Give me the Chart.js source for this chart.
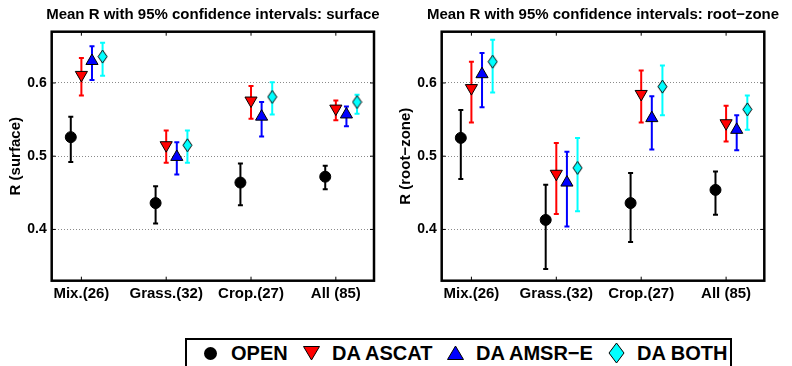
<!DOCTYPE html>
<html>
<head>
<meta charset="utf-8">
<script src="https://cdn.jsdelivr.net/npm/chart.js@4.4.0/dist/chart.umd.min.js"></script>
<style>
  html, body { margin: 0; padding: 0; background: #fff; overflow: hidden; width: 792px; height: 366px; }
  canvas { position: absolute; top: 0; }
  #left { left: 0; }
  #right { left: 390px; }
  #legend {
    position: absolute; left: 185px; top: 338px; width: 547px; height: 44px;
    border: 2px solid #000; box-sizing: border-box; background: #fff;
    font: bold 20px "Liberation Sans", Arial, sans-serif; color: #000;
  }
  #legend span { position: absolute; line-height: 20px; white-space: nowrap; }
  #legend svg { position: absolute; }
</style>
</head>
<body>
<canvas id="left" width="390" height="320"></canvas>
<canvas id="right" width="402" height="320"></canvas>
<div id="legend"></div>
<script>
const categories = ['Mix.(26)', 'Grass.(32)', 'Crop.(27)', 'All (85)'];
const seriesNames = ['OPEN', 'DA ASCAT', 'DA AMSR\u2212E', 'DA BOTH'];
const yTicks = [0.4, 0.5, 0.6];

// surface: mean R and 95% CI [low, high]
const surfOpen = [0.526, 0.436, 0.464, 0.472];
const surfOpenCI = [[0.492, 0.554], [0.408, 0.459], [0.433, 0.490], [0.455, 0.487]];
const surfAscat = [0.611, 0.515, 0.576, 0.565];
const surfAscatCI = [[0.583, 0.634], [0.491, 0.535], [0.551, 0.596], [0.549, 0.576]];
const surfAmsr = [0.630, 0.499, 0.554, 0.557];
const surfAmsrCI = [[0.604, 0.650], [0.475, 0.519], [0.527, 0.574], [0.541, 0.568]];
const surfBoth = [0.636, 0.515, 0.581, 0.574];
const surfBothCI = [[0.610, 0.655], [0.491, 0.535], [0.557, 0.601], [0.558, 0.584]];

// root-zone
const rootOpen = [0.525, 0.413, 0.436, 0.454];
const rootOpenCI = [[0.469, 0.563], [0.346, 0.461], [0.383, 0.477], [0.420, 0.479]];
const rootAscat = [0.593, 0.476, 0.585, 0.545];
const rootAscatCI = [[0.546, 0.629], [0.421, 0.518], [0.546, 0.617], [0.520, 0.569]];
const rootAmsr = [0.612, 0.464, 0.552, 0.536];
const rootAmsrCI = [[0.567, 0.641], [0.404, 0.506], [0.509, 0.582], [0.508, 0.556]];
const rootBoth = [0.629, 0.484, 0.595, 0.564];
const rootBothCI = [[0.587, 0.659], [0.425, 0.525], [0.556, 0.624], [0.536, 0.583]];

const FONT = '"Liberation Sans", Arial, sans-serif';
Chart.defaults.font.family = FONT;
Chart.defaults.color = '#000';

const colors = ['#000000', '#ff0000', '#0000ff', '#00ffff'];
const shift = [-0.125, 0, 0.125, 0.25];

function diamond(w, h) {
  const c = document.createElement('canvas');
  c.width = w + 2; c.height = h + 2;
  const g = c.getContext('2d');
  g.beginPath();
  g.moveTo(c.width / 2, 1);
  g.lineTo(c.width - 1, c.height / 2);
  g.lineTo(c.width / 2, c.height - 1);
  g.lineTo(1, c.height / 2);
  g.closePath();
  g.fillStyle = '#00ffff'; g.fill();
  g.strokeStyle = '#000'; g.lineWidth = 1; g.stroke();
  return c;
}
const diamondImg = diamond(9, 13);

function points(mean, ci, k) {
  return mean.map((v, i) => ({ x: i + 1 + shift[k], y: v, lo: ci[i][0], hi: ci[i][1] }));
}

function makeSets(sets) {
  const styles = [
    { pointStyle: 'circle', radius: 5.5, bg: '#000', border: '#000', rotation: 0 },
    { pointStyle: 'triangle', radius: 7, bg: '#ff0000', border: '#000', rotation: 180 },
    { pointStyle: 'triangle', radius: 7, bg: '#0000ff', border: '#000', rotation: 0 },
    { pointStyle: diamondImg, radius: 6, bg: '#00ffff', border: '#000', rotation: 0 }
  ];
  return sets.map((s, k) => ({
    label: seriesNames[k],
    data: points(s[0], s[1], k),
    barColor: colors[k],
    pointStyle: styles[k].pointStyle,
    pointRadius: styles[k].radius,
    pointRotation: styles[k].rotation,
    pointBackgroundColor: styles[k].bg,
    pointBorderColor: styles[k].border,
    pointBorderWidth: 1,
    showLine: false
  }));
}

// error bars, box, inner ticks and title
const frame = {
  id: 'frame',
  beforeDatasetsDraw(chart) {
    const { ctx, scales: { x, y } } = chart;
    chart.data.datasets.forEach(ds => {
      ctx.save();
      ctx.strokeStyle = ds.barColor;
      ctx.lineWidth = 2;
      ds.data.forEach(p => {
        const px = x.getPixelForValue(p.x);
        const lo = y.getPixelForValue(p.lo);
        const hi = y.getPixelForValue(p.hi);
        ctx.beginPath();
        ctx.moveTo(px, lo); ctx.lineTo(px, hi);
        ctx.moveTo(px - 2.5, lo); ctx.lineTo(px + 2.5, lo);
        ctx.moveTo(px - 2.5, hi); ctx.lineTo(px + 2.5, hi);
        ctx.stroke();
      });
      ctx.restore();
    });
  },
  afterDraw(chart, args, opts) {
    const { ctx, chartArea: a, scales: { x, y } } = chart;
    ctx.save();
    ctx.strokeStyle = '#000';
    ctx.lineWidth = 1;
    ctx.beginPath();
    x.ticks.forEach(t => {
      const px = x.getPixelForValue(t.value);
      ctx.moveTo(px, a.top); ctx.lineTo(px, a.top + 4);
      ctx.moveTo(px, a.bottom); ctx.lineTo(px, a.bottom - 4);
    });
    y.ticks.forEach(t => {
      const py = y.getPixelForValue(t.value);
      ctx.moveTo(a.left, py); ctx.lineTo(a.left + 4, py);
      ctx.moveTo(a.right, py); ctx.lineTo(a.right - 4, py);
    });
    ctx.stroke();
    ctx.lineWidth = 2.5;
    ctx.strokeRect(a.left, a.top, a.right - a.left, a.bottom - a.top);
    ctx.fillStyle = '#000';
    ctx.font = 'bold 15px ' + FONT;
    ctx.textAlign = 'center';
    ctx.textBaseline = 'alphabetic';
    ctx.fillText(opts.title, (a.left + a.right) / 2, 19);
    ctx.restore();
  }
};

function makeChart(id, title, yTitle, sets, padRight) {
  return new Chart(document.getElementById(id), {
    type: 'scatter',
    data: { datasets: makeSets(sets) },
    plugins: [frame],
    options: {
      responsive: false,
      animation: false,
      layout: { padding: { top: 31.7, right: padRight, bottom: 0, left: 0 } },
      plugins: {
        legend: { display: false },
        tooltip: { enabled: false },
        frame: { title }
      },
      scales: {
        x: {
          type: 'linear', min: 0.65, max: 4.45,
          afterBuildTicks: s => { s.ticks = categories.map((c, i) => ({ value: i + 1 })); },
          afterFit: s => { s.height = 39.3; },
          ticks: {
            callback: v => categories[v - 1],
            font: { size: 15, weight: 'bold' }, color: '#000',
            padding: 4, autoSkip: false, maxRotation: 0
          },
          grid: { display: false, drawTicks: false },
          border: { display: false }
        },
        y: {
          min: 0.33, max: 0.67,
          afterBuildTicks: s => { s.ticks = yTicks.map(v => ({ value: v })); },
          afterFit: s => { s.width = 51.7; },
          ticks: {
            callback: v => v.toFixed(1),
            font: { size: 14, weight: 'bold' }, color: '#000', padding: 5
          },
          grid: { color: '#8a8a8a', lineWidth: 1, drawTicks: false },
          border: { display: false, dash: [1, 2] },
          title: {
            display: true, text: yTitle, color: '#000',
            font: { size: 15, weight: 'bold' }, padding: { top: 6.6, bottom: 0 }
          }
        }
      }
    }
  });
}

makeChart('left', 'Mean R with 95% confidence intervals: surface', 'R (surface)',
  [[surfOpen, surfOpenCI], [surfAscat, surfAscatCI], [surfAmsr, surfAmsrCI], [surfBoth, surfBothCI]], 16);
makeChart('right', 'Mean R with 95% confidence intervals: root\u2212zone', 'R (root\u2212zone)',
  [[rootOpen, rootOpenCI], [rootAscat, rootAscatCI], [rootAmsr, rootAmsrCI], [rootBoth, rootBothCI]], 27.7);

// legend
const legendSvgs = [
  '<svg width="15" height="15"><circle cx="7.5" cy="7.5" r="6.5" fill="#000"/></svg>',
  '<svg width="19" height="16"><path d="M1.5,1.5 L17.5,1.5 L9.5,15 Z" fill="#ff0000" stroke="#000" stroke-width="1"/></svg>',
  '<svg width="19" height="16"><path d="M1.5,14.5 L17.5,14.5 L9.5,1 Z" fill="#0000ff" stroke="#000" stroke-width="1"/></svg>',
  '<svg width="17" height="22"><path d="M8.5,1 L16,11 L8.5,21 L1,11 Z" fill="#00ffff" stroke="#000" stroke-width="1"/></svg>'
];
const legend = document.getElementById('legend');
let cx = 23;
const cy = 13;
seriesNames.forEach((name, k) => {
  const holder = document.createElement('div');
  holder.innerHTML = legendSvgs[k];
  const svg = holder.firstChild;
  const w = +svg.getAttribute('width'), h = +svg.getAttribute('height');
  svg.style.left = (cx - w / 2) + 'px';
  svg.style.top = (cy - h / 2) + 'px';
  legend.appendChild(svg);
  const span = document.createElement('span');
  span.textContent = name;
  span.style.left = (cx + 21) + 'px';
  span.style.top = '2.6px';
  legend.appendChild(span);
  cx = cx + 21 + span.offsetWidth + 23;
});
</script>
</body>
</html>
